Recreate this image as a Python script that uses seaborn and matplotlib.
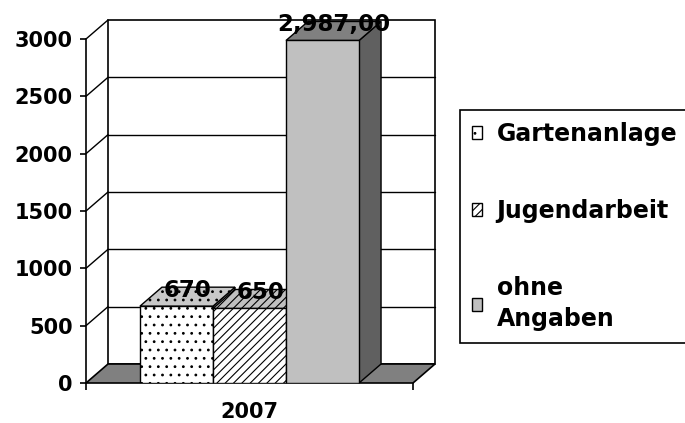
import matplotlib
matplotlib.use("Agg")
import matplotlib.pyplot as plt
import seaborn as sns
import pandas as pd
from matplotlib.patches import Polygon, Rectangle, Patch

# ---- data ----
year = ["2007"]
categories = ["Gartenanlage", "Jugendarbeit", "ohne\nAngaben"]
values = [670, 650, 2987]
value_labels = ["670", "650", "2,987,00"]
yticks = [0, 500, 1000, 1500, 2000, 2500, 3000]

front_colors = ["#FFFFFF", "#FFFFFF", "#C0C0C0"]
top_colors = ["#C8C8C8", "#C0C0C0", "#808080"]
side_colors = ["#A0A0A0", "#909090", "#606060"]
hatches = ["..", "////", ""]

sns.set_style("white")
plt.rcParams["font.family"] = ["DejaVu Sans"]
plt.rcParams["hatch.linewidth"] = 0.8
plt.rcParams["text.color"] = "black"
plt.rcParams["xtick.color"] = "black"
plt.rcParams["ytick.color"] = "black"
plt.rcParams["xtick.labelcolor"] = "black"
plt.rcParams["ytick.labelcolor"] = "black"

W, H = 685, 423
fig = plt.figure(figsize=(W / 100, H / 100), dpi=100)
ax_l, ax_r, ax_b, ax_t = 86, 413, 383, 39
ax = fig.add_axes([ax_l / W, 1 - ax_b / H, (ax_r - ax_l) / W, (ax_b - ax_t) / H])

df = pd.DataFrame({"year": year * len(categories), "category": categories, "value": values})
sns.barplot(data=df, x="year", y="value", hue="category", hue_order=categories,
            palette=front_colors, width=0.67, gap=0, saturation=1,
            edgecolor="black", linewidth=1, legend=False, ax=ax)
bars = [p for p in ax.patches if isinstance(p, Rectangle)]
bars = sorted(bars, key=lambda p: p.get_x())

ax.set_xlim(-0.5, 0.5)
ax.set_ylim(0, 3000)

# depth offset (3-D look) in data units
px_per_x = (ax_r - ax_l) / 1.0
px_per_y = (ax_b - ax_t) / 3000.0
dx = 22 / px_per_x
dy = 19 / px_per_y
xl0, xl1 = ax.get_xlim()
ymax = ax.get_ylim()[1]

# back wall
ax.add_patch(Rectangle((xl0 + dx, dy), xl1 - xl0, ymax, facecolor="white",
                       edgecolor="black", linewidth=1.2, zorder=0.5, clip_on=False))
for t in yticks[1:-1]:
    ax.plot([xl0 + dx, xl1 + dx], [t + dy, t + dy], color="black", lw=1, zorder=0.6, clip_on=False)
for t in yticks[1:]:
    ax.plot([xl0, xl0 + dx], [t, t + dy], color="black", lw=1, zorder=0.6, clip_on=False)
# floor
ax.add_patch(Polygon([(xl0, 0), (xl1, 0), (xl1 + dx, dy), (xl0 + dx, dy)], closed=True,
                     facecolor="#808080", edgecolor="black", linewidth=1.2, zorder=1, clip_on=False))

for i, p in enumerate(bars):
    x0 = p.get_x()
    x1 = x0 + p.get_width()
    h = p.get_height()
    z = 3 + 2 * i
    p.set_zorder(z + 1)
    p.set_hatch(hatches[i])
    p.set_facecolor(front_colors[i])
    top = Polygon([(x0, h), (x1, h), (x1 + dx, h + dy), (x0 + dx, h + dy)], closed=True,
                  facecolor=top_colors[i], edgecolor="black", linewidth=1, hatch=hatches[i],
                  zorder=z, clip_on=False)
    side = Polygon([(x1, 0), (x1 + dx, dy), (x1 + dx, h + dy), (x1, h)], closed=True,
                   facecolor=side_colors[i], edgecolor="black", linewidth=1,
                   zorder=z, clip_on=False)
    ax.add_patch(side)
    ax.add_patch(top)
    ax.text((x0 + x1) / 2 + dx / 2, h + dy * 0.85, value_labels[i], ha="center", va="center",
            fontsize=16.5, fontweight="bold", color="black", zorder=20, clip_on=False)

# axes styling
for s in ["top", "right", "bottom"]:
    ax.spines[s].set_visible(False)
ax.spines["left"].set_color("black")
ax.spines["left"].set_linewidth(1.2)
ax.spines["left"].set_zorder(2)
ax.set_yticks(yticks)
ax.set_yticklabels([str(t) for t in yticks], fontsize=15, fontweight="bold")
ax.tick_params(axis="y", left=True, length=4.5, width=1.2, pad=5, color="black")
ax.set_xticks([0])
ax.set_xticklabels(year, fontsize=15, fontweight="bold")
ax.set_xticks([xl0, xl1], minor=True)
ax.tick_params(axis="x", which="major", length=0, pad=14)
ax.tick_params(axis="x", which="minor", bottom=True, length=5, width=1.2, color="black")
ax.set_xlabel("")
ax.set_ylabel("")

handles = [Patch(facecolor=front_colors[i], edgecolor="black", hatch=hatches[i], linewidth=1)
           for i in range(len(categories))]
leg = fig.legend(handles, categories, loc="upper left", bbox_to_anchor=(460 / W, 1 - 110 / H),
                 prop={"size": 17, "weight": "bold"}, frameon=True, fancybox=False,
                 edgecolor="black", framealpha=1, handlelength=0.45, handleheight=0.45,
                 handletextpad=0.6, labelspacing=2.25, borderpad=0.5, borderaxespad=0)
leg.get_frame().set_linewidth(1.2)
for t in leg.get_texts():
    t.set_color("black")
    t.set_linespacing(1.35)

fig.savefig("out.png", dpi=100)
